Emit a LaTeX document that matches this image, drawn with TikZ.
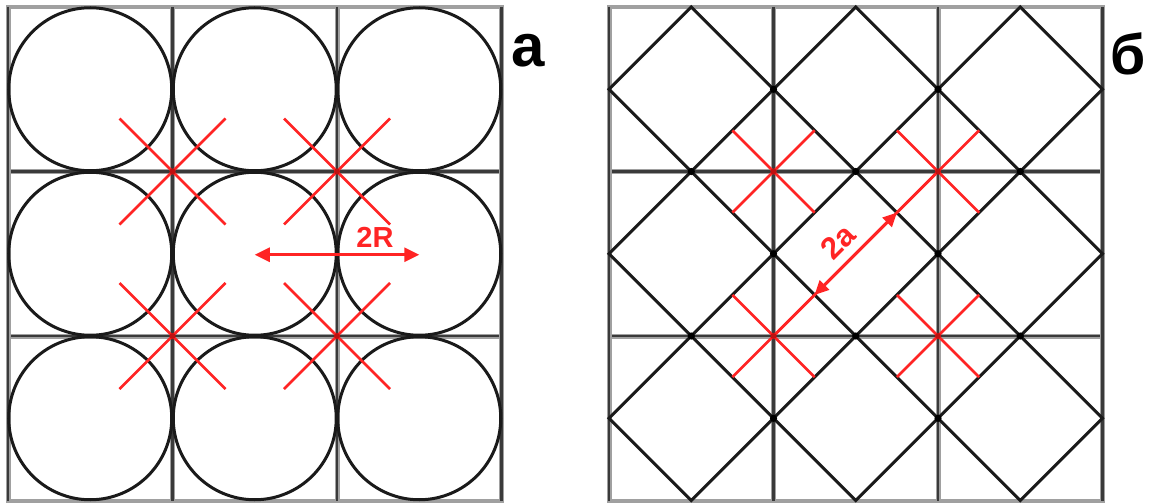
\documentclass[tikz,border=0pt]{standalone}
\usepackage{fontspec}
\setsansfont{Liberation Sans}
\usetikzlibrary{arrows.meta}
\definecolor{gridd}{HTML}{3A3A3A}
\definecolor{gridl}{HTML}{A0A0A0}
\definecolor{ink}{HTML}{1A1A1A}
\definecolor{redl}{HTML}{FF2424}
\definecolor{redd}{HTML}{C01010}
\tikzset{
  gridlight/.style={draw=gridl, line width=5},
  griddark/.style={draw=gridd, line width=2.4},
  gridedge/.style={draw=gridl, line width=4},
  shapeline/.style={draw=ink, line width=3},
  redx/.style={draw=redl, line width=2.8},
  redarrow/.style={draw=redl, line width=3, {Triangle[length=15,width=14]}-{Triangle[length=15,width=14]}},
  redlabel/.style={text=redl, font=\sffamily\bfseries\fontsize{29}{29}\selectfont, inner sep=0},
  panellabel/.style={text=black, font=\sffamily\bfseries\fontsize{60}{60}\selectfont, inner sep=0},
  jdot/.style={fill=black},
  rdot/.style={fill=redd}
}
\begin{document}
\begin{tikzpicture}[x=1pt,y=-1pt]
\useasboundingbox (0,0) rectangle (1151,503);
\def\cs{164.5}
% ---------- grids ----------
\foreach \ox in {8,609}{
  \def\oy{7}
  \foreach \j in {0,3}{
    \draw[gridedge] ({\ox},{\oy+\j*\cs}) -- ({\ox+3*\cs},{\oy+\j*\cs});
  }
  \foreach \j in {1,2}{
    \draw[gridlight] ({\ox},{\oy+\j*\cs}) -- ({\ox+3*\cs},{\oy+\j*\cs});
    \draw[griddark] ({\ox},{\oy+\j*\cs}) -- ({\ox+3*\cs},{\oy+\j*\cs});
  }
  \foreach \i in {0,1,2,3}{
    \draw[gridlight] ({\ox+\i*\cs},{\oy-2}) -- ({\ox+\i*\cs},{\oy+3*\cs+2});
    \draw[griddark] ({\ox+\i*\cs},{\oy}) -- ({\ox+\i*\cs},{\oy+3*\cs});
  }
}
% ---------- left panel: circles ----------
\foreach \i in {0,1,2}{
  \foreach \j in {0,1,2}{
    \draw[shapeline] ({8+(\i+0.5)*\cs},{7+(\j+0.5)*\cs}) circle[radius=81.5];
  }
}
% ---------- left panel: red crosses ----------
\foreach \i in {1,2}{
  \foreach \j in {1,2}{
    \coordinate (L\i\j) at ({8+\i*\cs},{7+\j*\cs});
    \draw[redx] (L\i\j) ++(-53,-53) -- ++(106,106);
    \draw[redx] (L\i\j) ++(53,-53) -- ++(-106,106);
    \fill[rdot] (L\i\j) circle[radius=3];
  }
}
\coordinate (rA) at ({8+1.5*\cs},{7+1.5*\cs+1});
\coordinate (rB) at ({8+2.5*\cs},{7+1.5*\cs+1});
\draw[redarrow] (rA) -- (rB);
\node[redlabel] (lab2R) at (375,237) {2R};
\node[panellabel] (laba) at (528,51) {а};
% ---------- right panel: diamonds ----------
\def\h{82.25}
\foreach \i in {0,1,2}{
  \foreach \j in {0,1,2}{
    \pgfmathsetmacro{\cx}{609+(\i+0.5)*\cs}
    \pgfmathsetmacro{\cy}{7+(\j+0.5)*\cs}
    \draw[shapeline, line join=miter] (\cx,{\cy-\h}) -- ({\cx+\h},\cy) -- (\cx,{\cy+\h}) -- ({\cx-\h},\cy) -- cycle;
  }
}
% junction dots
\foreach \i in {1,2}{
  \foreach \j in {0,1,2}{
    \fill[jdot] ({609+\i*\cs},{7+(\j+0.5)*\cs}) circle[radius=3.6];
    \fill[jdot] ({609+(\j+0.5)*\cs},{7+\i*\cs}) circle[radius=3.6];
  }
}
% ---------- right panel: red crosses ----------
\def\k{41.125}
\foreach \i in {1,2}{
  \foreach \j in {1,2}{
    \coordinate (R\i\j) at ({609+\i*\cs},{7+\j*\cs});
    \draw[redx] (R\i\j) ++(-\k,-\k) -- ++({2*\k},{2*\k});
    \draw[redx] (R\i\j) ++(\k,-\k) -- ++({-2*\k},{2*\k});
  }
}
\draw[redx] (R21) -- (R12);
\foreach \i in {1,2}{
  \foreach \j in {1,2}{
    \fill[rdot] (R\i\j) circle[radius=3];
  }
}
\coordinate (aA) at (896.9,212.6);
\coordinate (aB) at (814.6,294.9);
\draw[redarrow, {Triangle[length=14,width=13]}-{Triangle[length=14,width=13]}] (aA) -- (aB);
\node[redlabel, rotate=45, font=\sffamily\bfseries\fontsize{31}{31}\selectfont] (lab2a) at (838,242) {2a};
\node[panellabel, font=\sffamily\bfseries\fontsize{57}{57}\selectfont] (labb) at (1128,54) {б};
\end{tikzpicture}
\end{document}
